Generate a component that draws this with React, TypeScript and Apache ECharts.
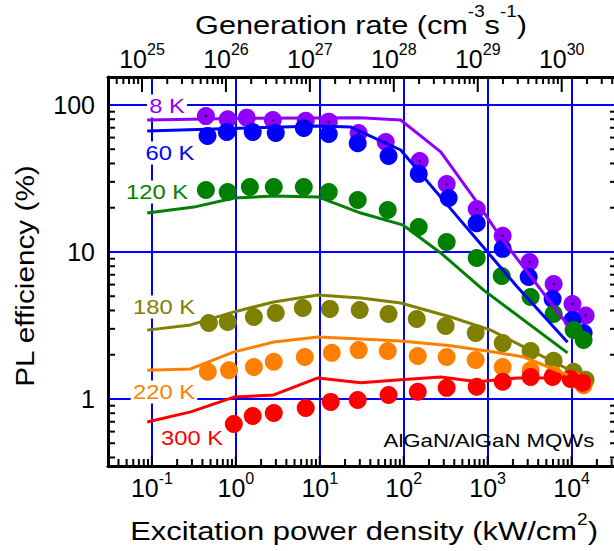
import React, { useEffect, useRef } from 'react';
import * as echarts from 'echarts';

// Axis ranges
const POWER_MIN = 0.03; // kW/cm^2
const POWER_MAX = 32000;
const EFF_MIN = 0.35; // %
const EFF_MAX = 155;
// generation rate (cm^-3 s^-1) corresponding to 1 kW/cm^2
const GEN_PER_POWER = Math.pow(10, 26.118);

const temperatures = ['8 K', '60 K', '120 K', '180 K', '220 K', '300 K'];
const colors = ['#8f00ff', '#0000ff', '#008000', '#808000', '#ff8000', '#ff0000'];

// Measured PL efficiency: [power density (kW/cm^2), efficiency (%)]
const measured8K = [
  [0.44, 84], [0.8, 80], [1.35, 82], [2.76, 79], [6.8, 78], [12.8, 77], [29, 64.5], [61, 56],
  [155, 41.6], [325, 29], [741, 19.6], [1510, 12.9], [3160, 8.55], [6110, 6.05], [10250, 4.43], [14700, 3.7],
];
const measured60K = [
  [0.46, 61.5], [0.78, 65.5], [1.59, 65.5], [2.99, 64.5], [6.45, 69.8], [12.8, 63.5], [28.3, 55], [66, 45],
  [151, 34], [343, 23.3], [740, 15.7], [1510, 10.5], [3080, 6.76], [5940, 4.79], [10250, 3.44], [13900, 2.81],
];
const measured120K = [
  [0.44, 26.4], [0.8, 25.6], [1.47, 27.7], [2.83, 27.7], [6.45, 27.7], [12.8, 25.6], [28.3, 22.6], [64.5, 19.3],
  [151, 14.8], [325, 11.7], [740, 9.1], [1470, 6.87], [3250, 4.94], [6110, 3.79], [10570, 2.95], [13900, 2.52],
];
const measured180K = [
  [0.477, 3.29], [0.8, 3.34], [1.64, 3.61], [2.99, 3.85], [6.28, 4.16], [13.2, 4.1], [29.9, 4.03], [66, 3.79],
  [143, 3.5], [316, 3.14], [720, 2.81], [1510, 2.4], [3250, 2.12], [6110, 1.82], [10570, 1.53], [14700, 1.35],
];
const measured220K = [
  [0.464, 1.53], [0.83, 1.57], [1.64, 1.65], [2.83, 1.79], [6.63, 1.93], [13.9, 2.06], [29.1, 2.15], [64.5, 2.12],
  [147, 1.96], [325, 1.93], [720, 1.84], [1510, 1.65], [3250, 1.57], [6110, 1.46], [10570, 1.35], [13900, 1.24],
];
const measured300K = [
  [0.946, 0.676], [1.59, 0.766], [2.83, 0.803], [6.8, 0.869], [13.5, 0.955], [28.3, 0.985], [66, 1.065],
  [147, 1.12], [325, 1.19], [740, 1.21], [1510, 1.31], [3250, 1.41], [5940, 1.41], [9730, 1.37], [13500, 1.29],
];

// Calculated curves
const model8K = [
  [0.088, 79], [1, 81], [30, 82], [92, 79], [276, 48], [760, 21.5], [1430, 12.6], [8950, 3.2],
];
const model60K = [
  [0.088, 66.6], [9.7, 72], [23.4, 70.8], [92, 49.4], [628, 13.6], [2275, 5.75], [8950, 2.43],
];
const model120K = [
  [0.088, 18.4], [0.316, 20.2], [0.95, 23.3], [2.83, 24], [9.5, 23.7], [30.8, 18.4], [97, 15.3],
  [276, 9.85], [895, 5.5], [8950, 2.06],
];
const model180K = [
  [0.088, 2.94], [0.29, 3.19], [0.95, 3.91], [2.83, 4.57], [9.5, 5.1], [30.8, 4.86], [92, 4.5],
  [363, 3.61], [1090, 2.94], [2690, 2.26], [8950, 1.6],
];
const model220K = [
  [0.088, 1.57], [0.29, 1.6], [0.95, 2.09], [2.83, 2.44], [9.5, 2.64], [30.8, 2.56], [92, 2.48],
  [363, 2.3], [1180, 2.09], [2690, 1.93], [8950, 1.46],
];
const model300K = [
  [0.088, 0.698], [0.29, 0.817], [0.95, 1.03], [2.83, 1.065], [9.5, 1.39], [30.8, 1.29], [92, 1.35],
  [276, 1.41], [760, 1.31], [2280, 1.39], [8950, 1.39],
];

const measuredSets = [measured8K, measured60K, measured120K, measured180K, measured220K, measured300K];
const modelSets = [model8K, model60K, model120K, model180K, model220K, model300K];

// Label anchor points (pixels) for the temperature tags
const tagPositions = [
  [167, 106], [170, 153], [157, 192], [164, 307], [164, 392], [192, 438],
];

const FONT = '"Liberation Sans", Arial, Helvetica, sans-serif';

// log-axis tick positions: majors at decades, minors at 2..9 x decade
function logTicks(lo: number, hi: number) {
  const major: number[] = [];
  const minor: number[] = [];
  const k0 = Math.floor(Math.log10(lo));
  const k1 = Math.ceil(Math.log10(hi));
  for (let k = k0; k <= k1; k++) {
    const d = Math.pow(10, k);
    if (d > lo * 1.0001 && d < hi * 0.9999) major.push(d);
    for (let m = 2; m <= 9; m++) {
      const v = m * d;
      if (v > lo * 1.0001 && v < hi * 0.9999) minor.push(v);
    }
  }
  return { major, minor };
}

const powerTicks = logTicks(POWER_MIN, POWER_MAX);
const effTicks = logTicks(EFF_MIN, EFF_MAX);
const genTicks = logTicks(POWER_MIN * GEN_PER_POWER, POWER_MAX * GEN_PER_POWER);

const tickLine = (x1: number, y1: number, x2: number, y2: number, w = 2) => ({
  type: 'line',
  shape: { x1, y1, x2, y2 },
  style: { stroke: '#000', lineWidth: w },
});

// "10" with a raised exponent
const powLabel = (v: number) => `{b|10}{s|${Math.round(Math.log10(v))}}`;
const powRich = {
  b: { fontSize: 25, fontFamily: FONT, color: '#000', lineHeight: 30, verticalAlign: 'bottom' },
  s: { fontSize: 16, fontFamily: FONT, color: '#000', lineHeight: 16, verticalAlign: 'top' },
};

const titleRich = (lineHeight: number) => ({
  a: { font: `26px ${FONT}`, fill: '#000', lineHeight, verticalAlign: 'bottom' },
  s: { font: `16px ${FONT}`, fill: '#000', lineHeight: 16, verticalAlign: 'top' },
});

export default function App() {
  const ref = useRef<HTMLDivElement>(null);

  useEffect(() => {
    if (!ref.current) return;
    const chart = echarts.init(ref.current, undefined, { renderer: 'svg' });

    const scatterSeries = measuredSets.map((data, i) => ({
      name: temperatures[i],
      type: 'scatter',
      xAxisIndex: 0,
      yAxisIndex: 0,
      data,
      symbol: 'circle',
      symbolSize: 18,
      itemStyle: { color: colors[i], opacity: 1 },
      z: 2,
      silent: true,
    }));

    const lineSeries = modelSets.map((data, i) => ({
      name: temperatures[i] + ' model',
      type: 'line',
      xAxisIndex: 0,
      yAxisIndex: 0,
      data,
      symbol: 'none',
      lineStyle: { color: colors[i], width: 3 },
      z: 3,
      silent: true,
    }));

    const option: any = {
      animation: false,
      backgroundColor: '#fff',
      grid: { left: 108, right: 0, top: 77, bottom: 85 },
      xAxis: [
        {
          type: 'log',
          logBase: 10,
          position: 'bottom',
          min: POWER_MIN,
          max: POWER_MAX,
          axisLine: { onZero: false, lineStyle: { color: '#000', width: 3 } },
          axisTick: { show: false },
          axisLabel: {
            formatter: powLabel,
            rich: powRich,
            margin: 4.5,
            showMinLabel: false,
            showMaxLabel: false,
          },
          splitLine: {
            show: true,
            showMinLine: false,
            showMaxLine: false,
            lineStyle: { color: '#0000ff', width: 2 },
          },
        },
        {
          type: 'log',
          logBase: 10,
          position: 'top',
          min: POWER_MIN * GEN_PER_POWER,
          max: POWER_MAX * GEN_PER_POWER,
          axisLine: { onZero: false, lineStyle: { color: '#000', width: 3 } },
          axisTick: { show: false },
          axisLabel: {
            formatter: powLabel,
            rich: powRich,
            margin: 5.5,
            showMinLabel: false,
            showMaxLabel: false,
          },
          splitLine: { show: false },
        },
      ],
      yAxis: [
        {
          type: 'log',
          logBase: 10,
          min: EFF_MIN,
          max: EFF_MAX,
          axisLine: { onZero: false, lineStyle: { color: '#000', width: 3 } },
          axisTick: { show: false },
          axisLabel: {
            formatter: (v: number) => String(Math.round(v)),
            fontSize: 25,
            fontFamily: FONT,
            color: '#000',
            margin: 13,
            showMinLabel: false,
            showMaxLabel: false,
          },
          splitLine: {
            show: true,
            showMinLine: false,
            showMaxLine: false,
            lineStyle: { color: '#0000ff', width: 2 },
          },
        },
      ],
      series: [
        ...scatterSeries,
        {
          name: '8 K centre',
          type: 'scatter',
          xAxisIndex: 0,
          yAxisIndex: 0,
          data: measured8K,
          symbolSize: 2.5,
          itemStyle: { color: '#000' },
          z: 2,
          silent: true,
        },
        ...lineSeries,
        {
          // frame ticks: bottom, left, right
          type: 'custom',
          xAxisIndex: 0,
          yAxisIndex: 0,
          data: [[1, 1]],
          silent: true,
          z: 4,
          renderItem: (_params: any, api: any) => {
            const children: any[] = [];
            const [xL, yB] = api.coord([POWER_MIN, EFF_MIN]);
            const [xR] = api.coord([POWER_MAX, EFF_MIN]);
            powerTicks.major.forEach((v) => {
              const x = api.coord([v, EFF_MIN])[0];
              children.push(tickLine(x, yB, x, yB - 10));
            });
            powerTicks.minor.forEach((v) => {
              const x = api.coord([v, EFF_MIN])[0];
              children.push(tickLine(x, yB, x, yB - 7));
            });
            effTicks.minor.forEach((v) => {
              const y = api.coord([POWER_MIN, v])[1];
              children.push(tickLine(xL, y, xL + 7, y));
              children.push(tickLine(xR, y, xR - 4, y));
            });
            return { type: 'group', children };
          },
        },
        {
          // frame ticks: top (generation rate)
          type: 'custom',
          xAxisIndex: 1,
          yAxisIndex: 0,
          data: [[1e27, 1]],
          silent: true,
          z: 4,
          renderItem: (_params: any, api: any) => {
            const children: any[] = [];
            const yT = api.coord([1e27, EFF_MAX])[1];
            genTicks.major.forEach((v) => {
              const x = api.coord([v, EFF_MAX])[0];
              children.push(tickLine(x, yT, x, yT + 15));
            });
            genTicks.minor.forEach((v) => {
              const x = api.coord([v, EFF_MAX])[0];
              children.push(tickLine(x, yT, x, yT + 7));
            });
            return { type: 'group', children };
          },
        },
      ],
      graphic: {
        elements: [
          {
            type: 'text',
            x: 361,
            y: 21,
            scaleX: 1.18,
            z: 1,
            style: {
              text: '{a|Generation rate (cm}{s|-3}{a|s}{s|-1}{a|)}',
              rich: titleRich(34),
              align: 'center',
              verticalAlign: 'middle',
            },
          },
          {
            type: 'text',
            x: 364,
            y: 528,
            scaleX: 1.19,
            z: 1,
            style: {
              text: '{a|Excitation power density (kW/cm}{s|2}{a|)}',
              rich: titleRich(32),
              align: 'center',
              verticalAlign: 'middle',
            },
          },
          {
            type: 'text',
            x: 25,
            y: 276,
            rotation: Math.PI / 2,
            scaleX: 1.19,
            z: 1,
            style: {
              text: 'PL efficiency (%)',
              font: `25px ${FONT}`,
              fill: '#000',
              align: 'center',
              verticalAlign: 'middle',
            },
          },
          {
            type: 'text',
            x: 489,
            y: 441,
            scaleX: 1.2,
            z: 1,
            style: {
              text: 'AlGaN/AlGaN MQWs',
              font: `18.5px ${FONT}`,
              fill: '#000',
              align: 'center',
              verticalAlign: 'middle',
            },
          },
          ...temperatures.map((t, i) => ({
            type: 'text',
            x: tagPositions[i][0],
            y: tagPositions[i][1],
            scaleX: 1.13,
            z: 1,
            style: {
              text: t,
              font: `21px ${FONT}`,
              fill: colors[i],
              backgroundColor: '#fff',
              padding: [1, 2, 1, 2],
              align: 'center',
              verticalAlign: 'middle',
            },
          })),
        ],
      },
    };

    chart.setOption(option);
    return () => chart.dispose();
  }, []);

  return (
    <div
      ref={ref}
      style={{ position: 'absolute', left: 0, top: 0, width: 614, height: 551, background: '#fff' }}
    />
  );
}
